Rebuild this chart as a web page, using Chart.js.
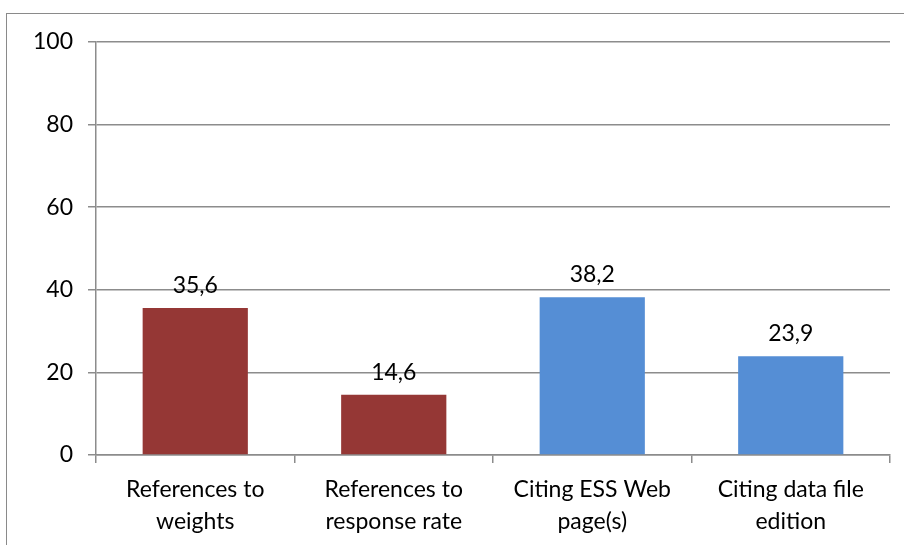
<!DOCTYPE html>
<html><head><meta charset="utf-8">
<script src="https://cdn.jsdelivr.net/npm/chart.js@4.4.0/dist/chart.umd.min.js"></script>
<style>
html,body{margin:0;padding:0;background:#fff;}
#wrap{position:relative;width:904px;height:545px;overflow:hidden;}
#frame{position:absolute;left:6px;top:13px;width:1000px;height:1000px;border:1.5px solid #8a8a8a;box-sizing:border-box;}
canvas{position:absolute;left:0;top:0;}
</style></head>
<body><div id="wrap"><div id="frame"></div><canvas id="c" width="904" height="545"></canvas></div>
<script>
const categories = [["References to","weights"],["References to","response rate"],["Citing ESS Web","page(s)"],["Citing data file","edition"]];
const values = [35.6, 14.6, 38.2, 23.9];
const labels = ["35,6","14,6","38,2","23,9"];
const barColors = ["#953735","#953735","#558ED5","#558ED5"];
const yTicks = [0,20,40,60,80,100];

const FONT = "Lato";
const FS = 23;
const labelPlugin = {
  id:'barLabels',
  afterDatasetsDraw(chart){
    const ctx = chart.ctx;
    const meta = chart.getDatasetMeta(0);
    ctx.save();
    ctx.font = FS + "px " + FONT;
    ctx.fillStyle = "#000";
    ctx.textAlign = "center";
    ctx.textBaseline = "alphabetic";
    meta.data.forEach((bar,i)=>{
      ctx.fillText(labels[i], bar.x, bar.y - 15);
    });
    ctx.restore();
  }
};

new Chart(document.getElementById('c'),{
  type:'bar',
  data:{labels:categories,datasets:[{data:values,backgroundColor:barColors,borderWidth:0,barPercentage:0.53,categoryPercentage:1}]},
  options:{
    responsive:false,animation:false,
    layout:{padding:{top:42,right:14,left:0,bottom:0}},
    plugins:{legend:{display:false},tooltip:{enabled:false}},
    scales:{
      y:{min:0,max:100,
        afterBuildTicks(s){s.ticks = yTicks.map(v=>({value:v}));},
        afterFit(s){s.width=96;},
        grid:{color:"#8c8c8c",lineWidth:1.5,tickLength:8},
        border:{color:"#8c8c8c",width:1.5},
        ticks:{font:{family:FONT,size:FS},color:"#000",padding:15}
      },
      x:{
        afterFit(s){s.height=90;},
        grid:{drawOnChartArea:false,color:"#8c8c8c",lineWidth:1.5,tickLength:8,offset:true},
        border:{color:"#8c8c8c",width:1.5},
        ticks:{font:{family:FONT,size:FS,lineHeight:1.38},color:"#000",padding:11,maxRotation:0,autoSkip:false}
      }
    }
  },
  plugins:[labelPlugin]
});
</script></body></html>
